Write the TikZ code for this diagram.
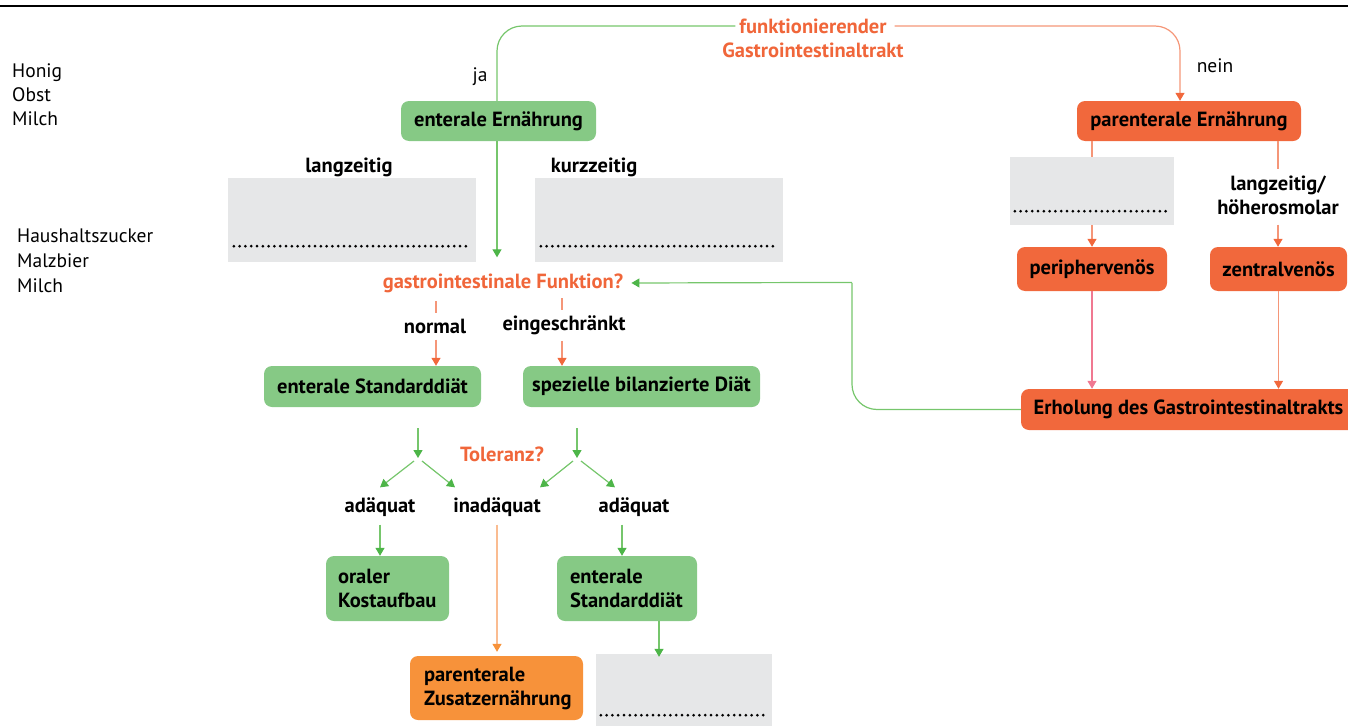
\documentclass[tikz,border=0pt]{standalone}
\usepackage{fontspec}
\setmainfont{PT Sans}
\usetikzlibrary{arrows.meta}
\definecolor{gbox}{RGB}{134,201,133}
\definecolor{glin}{RGB}{118,198,108}
\definecolor{gtip}{RGB}{77,181,72}
\definecolor{obox}{RGB}{241,104,60}
\definecolor{otext}{RGB}{240,102,58}
\definecolor{olin}{RGB}{245,150,120}
\definecolor{pinkl}{RGB}{240,120,145}
\definecolor{lobox}{RGB}{247,146,58}
\definecolor{lolin}{RGB}{250,188,145}
\definecolor{grayb}{RGB}{230,231,232}
\tikzset{
  box/.style={rounded corners=8pt, inner sep=0pt, font=\bfseries\fontsize{20.5}{24}\selectfont},
  gb/.style={box, fill=gbox},
  ob/.style={box, fill=obox},
  grbox/.style={fill=grayb, inner sep=0pt},
  lbl/.style={font=\bfseries\fontsize{20.5}{24}\selectfont, inner sep=0pt, align=center},
  olbl/.style={lbl, text=otext},
  plain/.style={font=\fontsize{19.5}{24}\selectfont, inner sep=0pt, align=left},
  dotline/.style={line width=3pt, line cap=round, dash pattern=on 0pt off 5.8pt},
  gl/.style={draw=glin, line width=1.2pt},
  ga/.style={gl, -{Triangle[width=9pt,length=8pt,color=gtip]}},
  ol/.style={draw=olin, line width=1.2pt},
  oa/.style={ol, -{Triangle[width=9pt,length=8pt,color=obox]}},
}
\begin{document}
\begin{tikzpicture}[x=1pt, y=-1pt]
\useasboundingbox (0,0) rectangle (1348,725);
% top rule
\draw[line width=2pt] (0,6) -- (1348,6);

% left texts
\node[plain, anchor=west] (lt1) at (12,95) {Honig\\Obst\\Milch};
\node[plain, anchor=west, font=\fontsize{19.5}{25}\selectfont] (lt2) at (17,261) {Haushaltszucker\\Malzbier\\Milch};

% top labels
\node[olbl] (funk1) at (813,26) {funktionierender};
\node[olbl] (funk2) at (813,50) {Gastrointestinaltrakt};
\node[plain] (ja) at (480,77) {ja};
\node[plain] (nein) at (1215,66) {nein};

% main boxes
\node[gb, minimum width=195pt, minimum height=40pt] (ent) at (498.5,121) {enterale Ernährung};
\node[ob, minimum width=224pt, minimum height=40pt] (par) at (1189,121) {parenterale Ernährung};

% gray boxes
\node[lbl] (lz) at (349,167) {langzeitig};
\node[lbl] (kz) at (594,167) {kurzzeitig};
\node[grbox, minimum width=248pt, minimum height=84pt] (g1) at (352,220) {};
\node[grbox, minimum width=248pt, minimum height=84pt] (g2) at (659,220) {};
\node[grbox, minimum width=164pt, minimum height=68pt] (g3) at (1092,191) {};
\draw[dotline] ([xshift=6pt,yshift=16pt]g1.south west) -- ([xshift=-5pt,yshift=16pt]g1.south east);
\draw[dotline] ([xshift=6pt,yshift=16pt]g2.south west) -- ([xshift=-5pt,yshift=16pt]g2.south east);
\draw[dotline] ([xshift=5pt,yshift=14pt]g3.south west) -- ([xshift=-4pt,yshift=14pt]g3.south east);

\node[lbl] (lh) at (1278,195) {langzeitig/\\höherosmolar};

\node[ob, minimum width=150pt, minimum height=44pt] (per) at (1092,269) {periphervenös};
\node[ob, minimum width=137pt, minimum height=44pt] (zen) at (1278.5,269) {zentralvenös};
\node[ob, minimum width=335pt, minimum height=41pt] (erh) at (1188.5,409.5) {Erholung des Gastrointestinaltrakts};

% middle column
\node[olbl] (gastro) at (503,283) {gastrointestinale Funktion?};
\node[lbl] (normal) at (435,326) {normal};
\node[lbl] (eing) at (564,325) {eingeschränkt};
\node[gb, minimum width=217pt, minimum height=41pt] (esd) at (372.5,386.5) {enterale Standarddiät};
\node[gb, minimum width=237pt, minimum height=41pt] (sbd) at (641.5,386.5) {spezielle bilanzierte Diät};

\coordinate (fk1) at (418,458);
\coordinate (fk2) at (577,458);
\node[olbl] (tol) at (502,454) {Toleranz?};
\node[lbl] (ad1) at (380,507) {adäquat};
\node[lbl] (inad) at (497,507) {inadäquat};
\node[lbl] (ad2) at (634,507) {adäquat};

\node[gb, minimum width=123pt, minimum height=65pt, text width=99pt, inner xsep=12pt, align=left] (okb) at (387.5,588.5) {oraler\\Kostaufbau};
\node[gb, minimum width=140pt, minimum height=65pt, text width=114pt, inner xsep=13pt, align=left] (esd2) at (627,588.5) {enterale\\Standarddiät};
\node[box, fill=lobox, minimum width=173pt, minimum height=64pt, text width=145pt, inner xsep=14pt, align=left] (pze) at (496.5,688) {parenterale\\Zusatzernährung};
\node[grbox, minimum width=176pt, minimum height=72pt] (g4) at (684,690) {};
\draw[dotline] ([xshift=5pt,yshift=11pt]g4.south west) -- ([xshift=-5pt,yshift=11pt]g4.south east);

% connectors top
\draw[gl, rounded corners=25pt] ([xshift=-4pt]funk1.west) -| ([xshift=-1.5pt]ent.north);
\draw[ga] ([xshift=-1.5pt]ent.south) -- ([xshift=-1.5pt,yshift=16pt]gastro.north -| ent.south);
\draw[oa, rounded corners=25pt] ([xshift=8pt]funk1.east) -| ([xshift=-9pt]par.north);

% parenteral branch
\draw[ol] (par.south -| g3.north) -- (g3.north);
\draw[oa] (g3.south) -- (per.north);
\draw[ol] (par.south -| lh.north) -- ([yshift=6pt]lh.north);
\draw[oa] ([yshift=-10pt]lh.south) -- (lh.south |- zen.north);
\draw[draw=pinkl, line width=1.2pt, -{Triangle[width=9pt,length=8pt,color=pinkl]}] (per.south) -- (per.south |- erh.north);
\draw[oa] (zen.south) -- (zen.south |- erh.north);

% recovery back
\coordinate (bk) at (852,283);
\draw[gl, rounded corners=25pt] (erh.west) -| (bk);
\draw[ga] ([yshift=0.6pt]bk) -- ([xshift=8pt]gastro.east);

% gastro function branch
\draw[ol] ([xshift=1pt,yshift=17pt]normal.north) -- ([xshift=1pt,yshift=5pt]normal.north);
\draw[ol] ([xshift=-2pt,yshift=17pt]eing.north) -- ([xshift=-2pt,yshift=5pt]eing.north);
\draw[oa] ([xshift=1pt,yshift=-6pt]normal.south) -- ([xshift=1pt]normal.south |- esd.north);
\draw[oa] ([xshift=-2pt,yshift=-6pt]eing.south) -- ([xshift=-2pt]eing.south |- sbd.north);

% tolerance
\draw[ga] ([yshift=-21pt]esd.south -| fk1) -- (fk1);
\draw[ga] ([yshift=-21pt]sbd.south -| fk2) -- (fk2);
\draw[ga] ([xshift=-4pt,yshift=-3pt]fk1) -- ([xshift=0pt,yshift=10pt]ad1.north);
\draw[ga] ([xshift=4pt,yshift=-3pt]fk1) -- ([xshift=-42pt,yshift=10pt]inad.north);
\draw[ga] ([xshift=-4pt,yshift=-3pt]fk2) -- ([xshift=43pt,yshift=10pt]inad.north);
\draw[ga] ([xshift=4pt,yshift=-3pt]fk2) -- ([xshift=-19pt,yshift=10pt]ad2.north);

% results
\draw[ga] ([yshift=-8pt]ad1.south) -- (ad1.south |- okb.north);
\draw[ga] ([xshift=-12pt,yshift=-8pt]ad2.south) -- ([xshift=-12pt]ad2.south |- esd2.north);
\draw[draw=lolin, line width=1.2pt, -{Triangle[width=9pt,length=8pt,color=lobox]}] ([yshift=-8pt]inad.south) -- ([yshift=4pt]inad.south |- pze.north);
\draw[ga] ([xshift=32pt]esd2.south) -- ([xshift=32pt,yshift=-3pt]esd2.south |- g4.north);
\end{tikzpicture}
\end{document}
